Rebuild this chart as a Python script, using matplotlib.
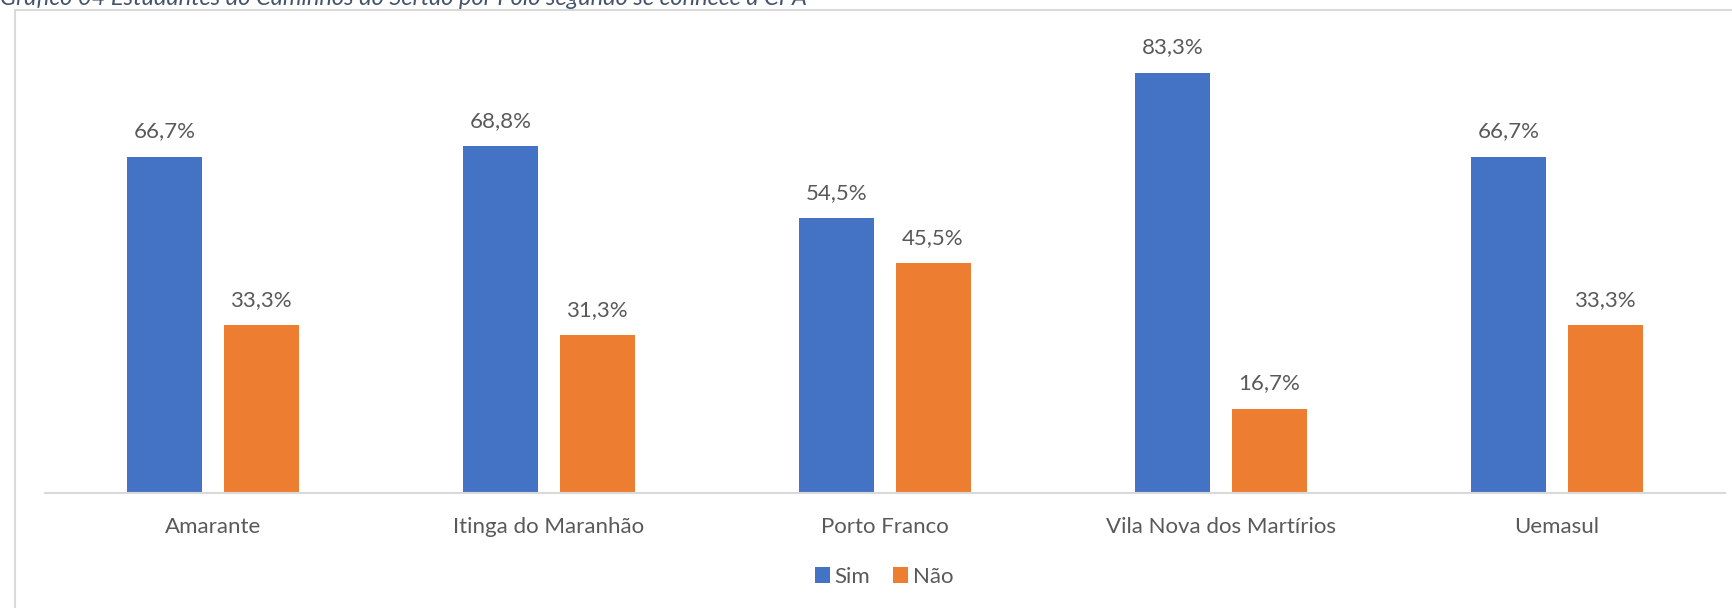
import matplotlib
matplotlib.use("Agg")
import matplotlib.pyplot as plt
import matplotlib.patches as mpatches
import numpy as np

# Estudantes por polo, segundo se conhece a CPA (%)
polos = ["Amarante", "Itinga do Maranhão", "Porto Franco", "Vila Nova dos Martírios", "Uemasul"]
sim = [66.7, 68.8, 54.5, 83.3, 66.7]
nao = [33.3, 31.3, 45.5, 16.7, 33.3]
series_names = ["Sim", "Não"]
title = "Gráfico 04 Estudantes do Caminhos do Sertão por Polo segundo se conhece a CPA"

blue = "#4472C4"
orange = "#ED7D31"
txt = "#595959"
grid_gray = "#D9D9D9"

plt.rcParams["font.family"] = ["Lato", "DejaVu Sans"]

W, H = 1733, 608
fig = plt.figure(figsize=(W / 100, H / 100), dpi=100)

# chart frame (runs off the right and bottom edges)
fig.patches.append(mpatches.Rectangle((15 / W, -0.05), 1.1, (H - 10) / H + 0.05,
                                      transform=fig.transFigure, fill=False,
                                      edgecolor=grid_gray, linewidth=1.5, zorder=0))

fig.text(0.0, (H - 5) / H, title, ha="left", va="baseline", fontsize=17,
         style="italic", color="#44546A")

ax = fig.add_axes([45 / W, (H - 493) / H, 1680 / W, 454 / H])
x = np.arange(len(polos))
bw = 0.223
off = 0.143
b1 = ax.bar(x - off, sim, bw, color=blue, label=series_names[0])
b2 = ax.bar(x + off, nao, bw, color=orange, label=series_names[1])

for bars in (b1, b2):
    for r in bars:
        v = r.get_height()
        ax.annotate(f"{v:.1f}%".replace(".", ","), (r.get_x() + r.get_width() / 2, v),
                    xytext=(0, 11), textcoords="offset points", ha="center",
                    va="bottom", fontsize=16, color=txt)

ax.set_xlim(-0.5, len(polos) - 0.5)
ax.set_ylim(0, 90)
ax.set_yticks([])
ax.set_xticks(x)
ax.set_xticklabels(polos, fontsize=16, color=txt)
ax.tick_params(axis="x", length=0, pad=17)
for s in ("top", "right", "left"):
    ax.spines[s].set_visible(False)
ax.spines["bottom"].set_color(grid_gray)
ax.spines["bottom"].set_linewidth(1.5)
ax.patch.set_alpha(0)

ax.legend(loc="center", bbox_to_anchor=(884 / W, (H - 577) / H),
          bbox_transform=fig.transFigure, ncol=2, frameon=False, fontsize=16,
          labelcolor=txt, handlelength=0.7, handleheight=0.7, handletextpad=0.2,
          columnspacing=1.0)

fig.savefig("out.png", dpi=100)
